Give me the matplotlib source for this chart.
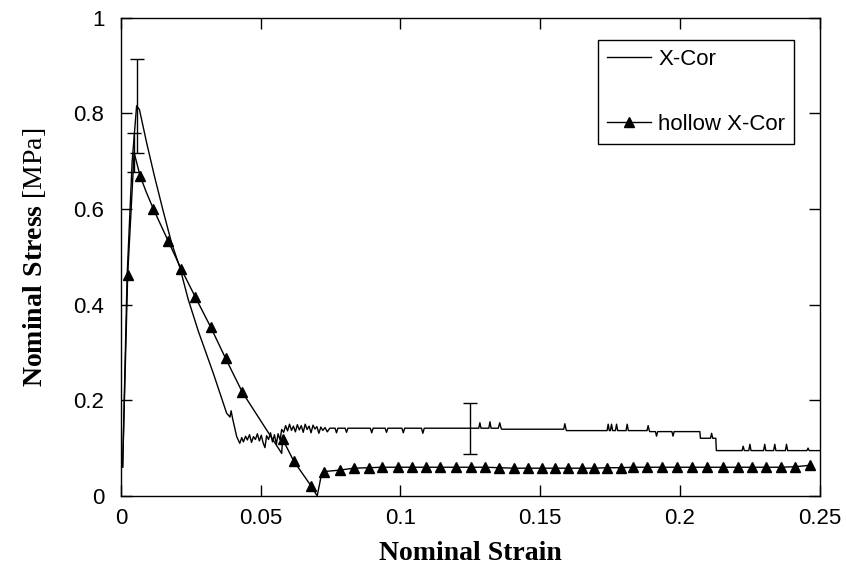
import matplotlib
matplotlib.use('Agg')
import matplotlib.pyplot as plt

plt.rcParams['font.family'] = ['Liberation Sans', 'DejaVu Sans']
plt.rcParams['mathtext.fontset'] = 'custom'
plt.rcParams['mathtext.rm'] = 'Liberation Serif'
plt.rcParams['mathtext.bf'] = 'Liberation Serif:bold'

# X-Cor curve
xcor_x = [0.0006, 0.0022, 0.0040, 0.0056, 0.0066, 0.0092, 0.0120, 0.0150, 0.0181, 0.0211,
          0.0240, 0.0277, 0.0330, 0.0378, 0.0390, 0.0394, 0.0400, 0.0404, 0.0414, 0.0425,
          0.0432, 0.0438, 0.0446, 0.0452, 0.0460, 0.0467, 0.0474, 0.0481, 0.0488, 0.0495,
          0.0502, 0.0508, 0.0515, 0.0521, 0.0528, 0.0535, 0.0542, 0.0549, 0.0556, 0.0562,
          0.0569, 0.0575, 0.0582, 0.0589, 0.0596, 0.0603, 0.0610, 0.0617, 0.0624, 0.0631,
          0.0638, 0.0645, 0.0652, 0.0659, 0.0666, 0.0673, 0.0680, 0.0687, 0.0694, 0.0701,
          0.0708, 0.0715, 0.0722, 0.0730, 0.0738, 0.0747,
          0.0766, 0.0771, 0.0776, 0.0802, 0.0807, 0.0812, 0.0892, 0.0897, 0.0902,
          0.0945, 0.0950, 0.0955, 0.1005, 0.1010, 0.1015, 0.1075, 0.1080, 0.1085,
          0.1280, 0.1284, 0.1288, 0.1316, 0.1320, 0.1324, 0.1350, 0.1355, 0.1360, 0.1362,
          0.1584, 0.1588, 0.1592, 0.1594,
          0.1739, 0.1743, 0.1747, 0.1751, 0.1755, 0.1759, 0.1769, 0.1773, 0.1777,
          0.1807, 0.1811, 0.1815, 0.1882, 0.1886, 0.1890, 0.1892,
          0.1912, 0.1916, 0.1920, 0.1971, 0.1975, 0.1979, 0.2071, 0.2073,
          0.2109, 0.2113, 0.2117, 0.2128, 0.2130,
          0.2222, 0.2226, 0.2230, 0.2246, 0.2250, 0.2254, 0.2299, 0.2303, 0.2307,
          0.2335, 0.2339, 0.2343, 0.2377, 0.2381, 0.2385, 0.2454, 0.2458, 0.2462, 0.2500]
xcor_y = [0.061, 0.460, 0.700, 0.816, 0.808, 0.738, 0.668, 0.598, 0.529, 0.477,
          0.412, 0.344, 0.257, 0.173, 0.165, 0.178, 0.160, 0.150, 0.124, 0.110,
          0.122, 0.113, 0.125, 0.117, 0.128, 0.112, 0.124, 0.118, 0.130, 0.115,
          0.127, 0.112, 0.101, 0.126, 0.118, 0.132, 0.113, 0.128, 0.108, 0.130,
          0.117, 0.139, 0.133, 0.147, 0.136, 0.150, 0.137, 0.146, 0.134, 0.149,
          0.138, 0.147, 0.133, 0.150, 0.139, 0.146, 0.132, 0.148, 0.140, 0.145,
          0.131, 0.144, 0.137, 0.143, 0.134, 0.1416,
          0.1416, 0.132, 0.1416, 0.1416, 0.133, 0.1416, 0.1416, 0.132, 0.1416,
          0.1416, 0.133, 0.1416, 0.1416, 0.132, 0.1416, 0.1416, 0.131, 0.1416,
          0.1416, 0.153, 0.1416, 0.1416, 0.155, 0.1416, 0.1416, 0.153, 0.1416, 0.1395,
          0.1395, 0.151, 0.1395, 0.1366,
          0.1366, 0.150, 0.1366, 0.1366, 0.150, 0.1366, 0.1366, 0.150, 0.1366,
          0.1366, 0.150, 0.1366, 0.1366, 0.147, 0.1366, 0.1345,
          0.1345, 0.125, 0.1345, 0.1345, 0.125, 0.1345, 0.1345, 0.1206,
          0.1206, 0.131, 0.1206, 0.1206, 0.0948,
          0.0948, 0.104, 0.0948, 0.0948, 0.108, 0.0948, 0.0948, 0.108, 0.0948,
          0.0948, 0.108, 0.0948, 0.0948, 0.108, 0.0948, 0.0948, 0.100, 0.0948, 0.0948]

# hollow X-Cor curve; triangles drawn on the measured marker points
hollow_x = [0.0006, 0.0024, 0.0047, 0.0068, 0.0090, 0.0116, 0.0169, 0.0215, 0.0265, 0.0321,
            0.0374, 0.0434, 0.0575, 0.0578, 0.0618, 0.0680, 0.0702, 0.0718, 0.0728,
            0.0783, 0.0833, 0.0887, 0.0935, 0.0990, 0.1040, 0.1090, 0.1141, 0.1198, 0.1252,
            0.1304, 0.1353, 0.1406, 0.1457, 0.1505, 0.1552, 0.1600, 0.1648, 0.1692, 0.1739,
            0.1788, 0.1832, 0.1882, 0.1936, 0.1990, 0.2044, 0.2097, 0.2154, 0.2208, 0.2259,
            0.2309, 0.2360, 0.2411, 0.2464]
hollow_y = [0.060, 0.462, 0.718, 0.670, 0.636, 0.600, 0.533, 0.475, 0.417, 0.353,
            0.288, 0.217, 0.089, 0.119, 0.073, 0.021, 0.000, 0.047, 0.051,
            0.054, 0.058, 0.059, 0.060, 0.060, 0.060, 0.060, 0.060, 0.060, 0.060,
            0.060, 0.059, 0.058, 0.058, 0.058, 0.058, 0.058, 0.058, 0.058, 0.059,
            0.059, 0.060, 0.060, 0.060, 0.060, 0.060, 0.060, 0.060, 0.060, 0.060,
            0.060, 0.060, 0.061, 0.064]
hollow_marks = [1, 3, 5, 6, 7, 8, 9, 10, 11, 13, 14, 15] + list(range(18, 53))

# error bars
err_x = [0.0058, 0.0047, 0.1248]
err_y = [0.816, 0.718, 0.1416]
err_size = [0.098, 0.040, 0.053]

fig = plt.figure(figsize=(8.46, 5.72), dpi=100)
ax = fig.add_axes([0.143, 0.133, 0.826, 0.836])

ax.plot(xcor_x, xcor_y, 'k-', lw=1.0, label='X-Cor')
ax.plot(hollow_x, hollow_y, 'k-', lw=1.0, marker='^', ms=6.5,
        markevery=hollow_marks, label='hollow X-Cor')
ax.errorbar(err_x, err_y, yerr=err_size, fmt='none', ecolor='k', elinewidth=1.0,
            capsize=5, capthick=1.0)

ax.set_xlim(0, 0.25)
ax.set_ylim(0, 1)
ax.set_xticks([0, 0.05, 0.1, 0.15, 0.2, 0.25])
ax.set_xticklabels(['0', '0.05', '0.1', '0.15', '0.2', '0.25'])
ax.set_yticks([0, 0.2, 0.4, 0.6, 0.8, 1])
ax.set_yticklabels(['0', '0.2', '0.4', '0.6', '0.8', '1'])
ax.tick_params(direction='in', length=8, width=1, top=True, right=True,
               labelsize=16)
ax.tick_params(axis='x', pad=9)
ax.tick_params(axis='y', pad=12)
for s in ax.spines.values():
    s.set_linewidth(1.0)

ax.set_xlabel('Nominal Strain', fontsize=20, fontweight='bold',
              family='Liberation Serif', labelpad=8)
ax.set_ylabel(r'$\mathbf{Nominal\ Stress}$ [MPa]', fontsize=20,
              family='Liberation Serif', labelpad=18)

leg = ax.legend(loc='upper right', bbox_to_anchor=(0.963, 0.954), borderaxespad=0,
                fontsize=16, fancybox=False, edgecolor='k', framealpha=1,
                labelspacing=2.0, handlelength=2.0, handletextpad=0.3, borderpad=0.4)
leg.get_frame().set_linewidth(1.0)

plt.savefig('out.png', dpi=100)
